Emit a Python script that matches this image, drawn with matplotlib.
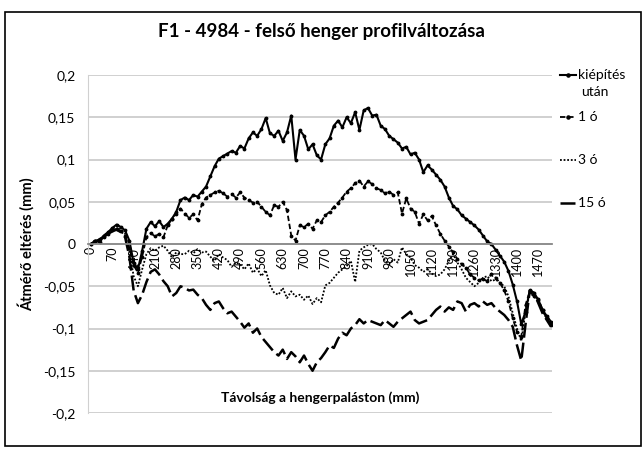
import matplotlib
matplotlib.use("Agg")
import matplotlib.pyplot as plt
from matplotlib.patches import Rectangle

plt.rcParams['font.family'] = ['Lato', 'DejaVu Sans']

title = "F1 - 4984 - felső henger profilváltozása"
ylabel = "Átmérő eltérés (mm)"
xlabel = "Távolság a hengerpaláston (mm)"
series_names = ["kiépítés\nután", "1 ó", "3 ó", "15 ó"]

distance_mm = list(range(0, 1513, 14))
tick_positions = list(range(0, 1471, 70))
y_ticks = [0.2, 0.15, 0.1, 0.05, 0, -0.05, -0.1, -0.15, -0.2]
y_tick_labels = ["0,2", "0,15", "0,1", "0,05", "0", "-0,05", "-0,1", "-0,15", "-0,2"]

kiepites_utan = [
    0.000, 0.004, 0.002, 0.010, 0.014, 0.019, 0.023, 0.020, 0.016, 0.004,
    -0.022, -0.030, -0.008, 0.018, 0.026, 0.021, 0.027, 0.020, 0.024, 0.030,
    0.038, 0.052, 0.055, 0.052, 0.058, 0.056, 0.062, 0.068, 0.080, 0.092,
    0.101, 0.104, 0.107, 0.110, 0.108, 0.116, 0.113, 0.125, 0.132, 0.128,
    0.136, 0.149, 0.131, 0.128, 0.134, 0.122, 0.132, 0.152, 0.100, 0.135,
    0.128, 0.112, 0.118, 0.105, 0.100, 0.118, 0.125, 0.140, 0.146, 0.138,
    0.150, 0.143, 0.156, 0.135, 0.158, 0.161, 0.152, 0.153, 0.140, 0.136,
    0.128, 0.124, 0.120, 0.113, 0.115, 0.106, 0.108, 0.100, 0.085, 0.093,
    0.088, 0.082, 0.076, 0.068, 0.055, 0.045, 0.041, 0.034, 0.030, 0.026,
    0.022, 0.017, 0.010, 0.003, 0.000, -0.007, -0.014, -0.021, -0.032, -0.048,
    -0.068, -0.095, -0.080, -0.055, -0.058, -0.066, -0.078, -0.088, -0.096,
]

ora_1 = [
    0.000, 0.003, 0.006, 0.008, 0.012, 0.016, 0.018, 0.015, 0.010, -0.005,
    -0.025, -0.034, -0.015, 0.008, 0.013, 0.009, 0.012, 0.008, 0.022, 0.030,
    0.036, 0.042, 0.036, 0.031, 0.035, 0.028, 0.047, 0.055, 0.058, 0.061,
    0.063, 0.060, 0.056, 0.059, 0.055, 0.061, 0.055, 0.052, 0.049, 0.050,
    0.044, 0.038, 0.034, 0.046, 0.044, 0.050, 0.040, 0.010, 0.004, 0.022,
    0.020, 0.024, 0.018, 0.028, 0.026, 0.034, 0.038, 0.044, 0.049, 0.055,
    0.062, 0.066, 0.072, 0.075, 0.068, 0.074, 0.071, 0.066, 0.064, 0.060,
    0.062, 0.058, 0.061, 0.036, 0.054, 0.042, 0.038, 0.024, 0.035, 0.028,
    0.033, 0.022, 0.012, 0.004, -0.003, -0.010, -0.018, -0.024, -0.028, -0.036,
    -0.040, -0.043, -0.041, -0.044, -0.035, -0.040, -0.046, -0.055, -0.068, -0.088,
    -0.104, -0.110, -0.072, -0.056, -0.062, -0.065, -0.078, -0.085, -0.092,
]

ora_3 = [
    0.000, 0.005, 0.004, 0.010, 0.013, 0.018, 0.021, 0.017, 0.012, -0.008,
    -0.038, -0.050, -0.030, -0.012, -0.005, -0.008, -0.004, -0.002, -0.008, -0.016,
    -0.010, -0.012, -0.012, -0.008, -0.011, -0.006, -0.010, -0.009, -0.015, -0.020,
    -0.012, -0.016, -0.019, -0.027, -0.022, -0.024, -0.030, -0.023, -0.034, -0.029,
    -0.038, -0.031, -0.049, -0.058, -0.060, -0.052, -0.064, -0.056, -0.062, -0.060,
    -0.066, -0.061, -0.071, -0.064, -0.069, -0.049, -0.046, -0.040, -0.034, -0.030,
    -0.026, -0.020, -0.045, -0.008, -0.004, -0.001, 0.000, -0.006, -0.010, -0.020,
    -0.024, -0.018, -0.022, -0.004, -0.012, -0.016, -0.025, -0.028, -0.033, -0.030,
    -0.035, -0.038, -0.036, -0.030, -0.020, -0.012, -0.022, -0.030, -0.040, -0.045,
    -0.050, -0.046, -0.040, -0.038, -0.044, -0.042, -0.046, -0.050, -0.062, -0.082,
    -0.100, -0.115, -0.080, -0.058, -0.062, -0.068, -0.080, -0.088, -0.094,
]

ora_15 = [
    0.000, 0.003, 0.005, 0.009, 0.012, 0.015, 0.017, 0.014, 0.008, -0.015,
    -0.055, -0.070, -0.060, -0.045, -0.033, -0.030, -0.036, -0.044, -0.050, -0.062,
    -0.058, -0.050, -0.052, -0.055, -0.054, -0.060, -0.064, -0.072, -0.078, -0.070,
    -0.068, -0.076, -0.082, -0.080, -0.086, -0.092, -0.099, -0.094, -0.105, -0.100,
    -0.110, -0.116, -0.122, -0.128, -0.132, -0.125, -0.136, -0.128, -0.133, -0.140,
    -0.132, -0.142, -0.150, -0.140, -0.135, -0.128, -0.120, -0.123, -0.112, -0.105,
    -0.108, -0.100, -0.096, -0.089, -0.094, -0.090, -0.092, -0.094, -0.096, -0.090,
    -0.094, -0.098, -0.092, -0.088, -0.084, -0.080, -0.090, -0.094, -0.092, -0.090,
    -0.084, -0.078, -0.074, -0.080, -0.075, -0.078, -0.068, -0.070, -0.080, -0.072,
    -0.070, -0.074, -0.068, -0.072, -0.070, -0.076, -0.080, -0.084, -0.090, -0.098,
    -0.120, -0.138, -0.095, -0.055, -0.058, -0.070, -0.082, -0.090, -0.098,
]

styles = [
    dict(lw=1.5, ls='-', marker='.', ms=3.5),
    dict(lw=1.3, ls=(0, (3, 1.5)), marker='.', ms=3.5),
    dict(lw=1.3, ls=(0, (1, 1))),
    dict(lw=1.8, ls=(0, (6, 2))),
]
all_series = [kiepites_utan, ora_1, ora_3, ora_15]

fig = plt.figure(figsize=(6.43, 4.49), dpi=100)
ax = fig.add_axes([88 / 643, 1 - 413 / 449, 464 / 643, 338 / 449])

for vals, st in zip(all_series, styles):
    ax.plot(distance_mm, vals, color='black', **st)

ax.set_xlim(-10, 1515)
ax.set_ylim(-0.2, 0.2)
for s in ['top', 'right']:
    ax.spines[s].set_visible(False)
ax.spines['bottom'].set_position(('data', 0))
ax.spines['bottom'].set_color('#8a8a8a')
ax.spines['bottom'].set_linewidth(1.3)
ax.spines['left'].set_color('#d0d0d0')

ax.set_yticks(y_ticks)
ax.set_yticklabels(y_tick_labels, fontsize=10)
ax.set_xticks(tick_positions)
ax.set_xticklabels([str(t) for t in tick_positions], fontsize=9)
ax.tick_params(axis='x', labelrotation=90, length=0, pad=2)
ax.tick_params(axis='y', length=0, pad=9)
ax.grid(axis='y', color='#c8c8c8', lw=1.2)
ax.set_axisbelow(True)

ax.set_ylabel(ylabel, fontsize=10.5, fontweight='bold', labelpad=6)
ax.text(0.5, 0.045, xlabel, transform=ax.transAxes, ha='center', va='center',
        fontsize=10, fontweight='bold')
fig.text(0.5, 1 - 31 / 449, title, ha='center', va='center', fontsize=13.5, fontweight='bold')

# legend drawn at the right of the plot
leg_y = [1.0, 0.876, 0.749, 0.621]
for name, st, yy in zip(series_names, styles, leg_y):
    ax.plot([1.017, 1.052], [yy, yy], transform=ax.transAxes, clip_on=False,
            color='black', lw=st['lw'], ls=st['ls'])
    if 'marker' in st:
        ax.plot([1.0345], [yy], transform=ax.transAxes, clip_on=False,
                color='black', marker=st['marker'], ms=st['ms'] + 1)
    lines = name.split("\n")
    ax.text(1.057, yy, lines[0], transform=ax.transAxes, ha='left', va='center', fontsize=10)
    if len(lines) > 1:
        ax.text(1.062, yy - 0.05, lines[1], transform=ax.transAxes, ha='left', va='center', fontsize=10)

fig.patches.append(Rectangle((5 / 643, 3 / 449), 636 / 643, 434 / 449, transform=fig.transFigure,
                             fill=False, edgecolor='black', lw=1.2))

fig.savefig("out.png", dpi=100)
